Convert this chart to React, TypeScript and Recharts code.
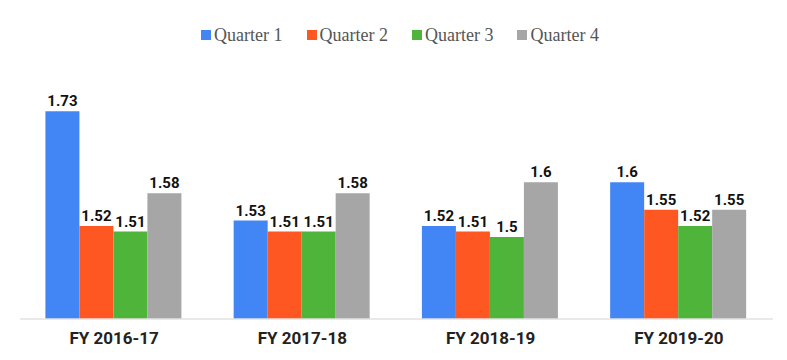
import { BarChart, Bar, XAxis, YAxis, LabelList } from 'recharts'

const years = ['FY 2016-17', 'FY 2017-18', 'FY 2018-19', 'FY 2019-20']
const q1 = [1.73, 1.53, 1.52, 1.6]
const q2 = [1.52, 1.51, 1.51, 1.55]
const q3 = [1.51, 1.51, 1.5, 1.52]
const q4 = [1.58, 1.58, 1.6, 1.55]

const series = [
  { key: 'q1', name: 'Quarter 1', color: '#4285F4' },
  { key: 'q2', name: 'Quarter 2', color: '#FF5722' },
  { key: 'q3', name: 'Quarter 3', color: '#4FB43A' },
  { key: 'q4', name: 'Quarter 4', color: '#A6A6A6' },
]

const data = years.map((year, i) => ({ year, q1: q1[i], q2: q2[i], q3: q3[i], q4: q4[i] }))

// legend sits outside the chart so it doesn't push the plot area down
function TopLegend() {
  return (
    <div
      style={{
        position: 'absolute', top: 24, left: 0, width: 787,
        display: 'flex', justifyContent: 'center', alignItems: 'center', gap: 24, paddingLeft: 13,
        boxSizing: 'border-box',
      }}
    >
      {series.map(s => (
        <div key={s.key} style={{ display: 'flex', alignItems: 'center' }}>
          <span style={{ width: 10, height: 10, background: s.color, marginRight: 3, display: 'inline-block' }} />
          <span style={{ fontFamily: '"Liberation Serif", serif', fontSize: 18, color: '#555', lineHeight: '22px' }}>
            {s.name}
          </span>
        </div>
      ))}
    </div>
  )
}

export default function App() {
  return (
    <div style={{ position: 'absolute', left: 0, top: 0, width: 787, height: 360, background: '#fff' }}>
      <TopLegend />
      <BarChart
        width={787}
        height={360}
        data={data}
        margin={{ top: 73, right: 14, bottom: 11, left: 20 }}
        barCategoryGap="13.5%"
        barGap={0}
      >
        <XAxis
          dataKey="year"
          height={30}
          axisLine={{ stroke: '#e2e2e2', strokeWidth: 1.5 }}
          tickLine={false}
          tickMargin={7}
          tick={{ fill: '#222', fontSize: 17, fontWeight: 700, fontFamily: 'Roboto' }}
        />
        <YAxis hide domain={[1.35, 1.8]} allowDataOverflow />
        {series.map(s => (
          <Bar key={s.key} dataKey={s.key} name={s.name} fill={s.color} isAnimationActive={false}>
            <LabelList
              dataKey={s.key}
              position="top"
              offset={5}
              style={{ fill: '#111', fontSize: 15, fontWeight: 700, fontFamily: 'Roboto' }}
            />
          </Bar>
        ))}
      </BarChart>
    </div>
  )
}
